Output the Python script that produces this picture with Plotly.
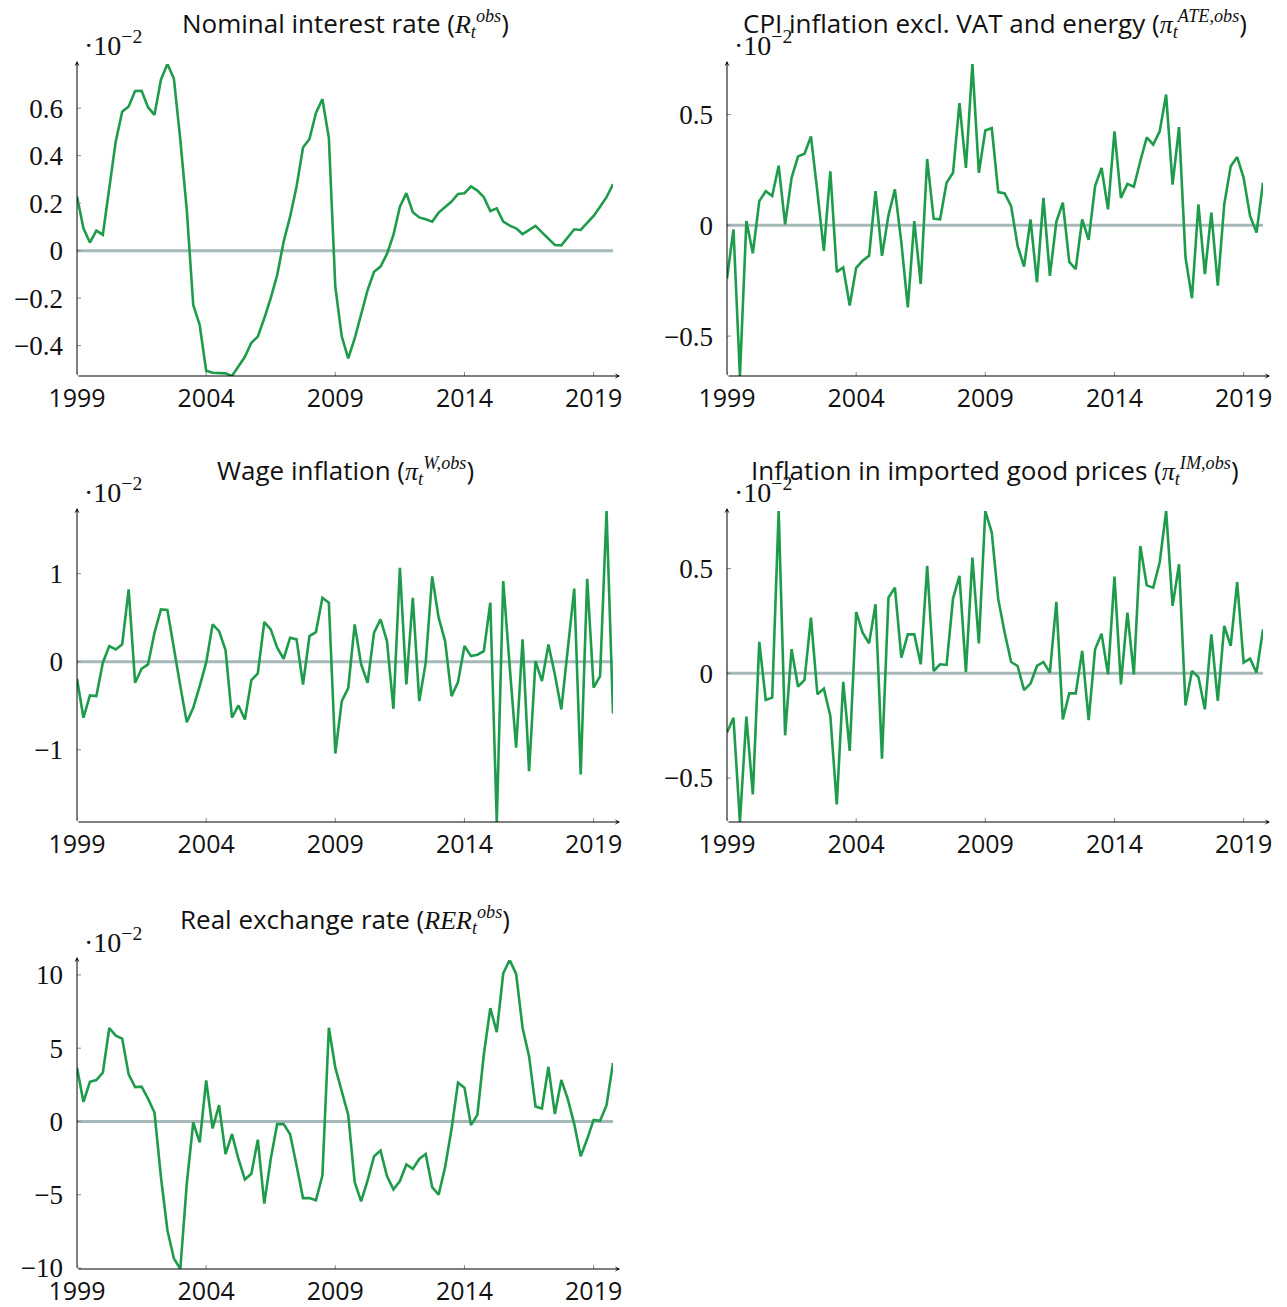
import pandas as pd
import plotly.graph_objects as go

# ---------------- data (values in units of 10^-2) ----------------
quarters = pd.period_range("1999Q1", "2019Q4", freq="Q")
t = [p.year + (p.quarter - 1) / 4 for p in quarters]

nominal_rate = [0.228, 0.094, 0.034, 0.084, 0.067, 0.256, 0.46, 0.585, 0.607, 0.672,
                0.673, 0.604, 0.572, 0.72, 0.786, 0.725, 0.466, 0.171, -0.229, -0.313,
                -0.506, -0.514, -0.514, -0.517, -0.528, -0.489, -0.447, -0.388, -0.362, -0.285,
                -0.2, -0.103, 0.038, 0.143, 0.27, 0.434, 0.47, 0.58, 0.638, 0.474,
                -0.152, -0.362, -0.454, -0.37, -0.271, -0.166, -0.089, -0.067, -0.014, 0.066,
                0.185, 0.242, 0.162, 0.14, 0.132, 0.122, 0.16, 0.183, 0.207, 0.239,
                0.242, 0.27, 0.253, 0.225, 0.167, 0.178, 0.122, 0.105, 0.094, 0.07,
                0.087, 0.104, 0.077, 0.049, 0.024, 0.022, 0.056, 0.09, 0.087, 0.118,
                0.146, 0.185, 0.225, 0.28]

cpi_ate = [-0.24, -0.018, -0.68, 0.019, -0.126, 0.109, 0.154, 0.132, 0.269, 0.004,
           0.214, 0.311, 0.323, 0.401, 0.15, -0.115, 0.244, -0.21, -0.19, -0.362,
           -0.192, -0.16, -0.138, 0.154, -0.138, 0.045, 0.162, -0.078, -0.37, 0.019,
           -0.265, 0.299, 0.03, 0.027, 0.192, 0.237, 0.551, 0.259, 0.728, 0.237,
           0.428, 0.439, 0.15, 0.144, 0.087, -0.093, -0.186, 0.027, -0.257, 0.124,
           -0.228, 0.016, 0.102, -0.165, -0.198, 0.027, -0.066, 0.177, 0.259, 0.072,
           0.424, 0.124, 0.187, 0.174, 0.289, 0.397, 0.364, 0.424, 0.59, 0.184,
           0.443, -0.145, -0.329, 0.094, -0.22, 0.057, -0.272, 0.094, 0.266, 0.308,
           0.214, 0.042, -0.033, 0.192]

wage = [-0.193, -0.636, -0.383, -0.39, -0.011, 0.178, 0.14, 0.197, 0.822, -0.239,
        -0.08, -0.03, 0.33, 0.595, 0.587, 0.14, -0.277, -0.686, -0.523, -0.277,
        -0.011, 0.424, 0.348, 0.133, -0.636, -0.496, -0.655, -0.208, -0.133, 0.451,
        0.367, 0.159, 0.034, 0.273, 0.254, -0.258, 0.292, 0.337, 0.727, 0.67,
        -1.042, -0.447, -0.3, 0.424, -0.03, -0.239, 0.33, 0.481, 0.235, -0.534,
        1.068, -0.258, 0.727, -0.447, -0.011, 0.97, 0.5, 0.235, -0.39, -0.231,
        0.178, 0.064, 0.08, 0.121, 0.67, -1.82, 0.917, -0.049, -0.977, 0.254,
        -1.242, 0.008, -0.22, 0.197, -0.144, -0.542, 0.178, 0.83, -1.28, 0.943,
        -0.295, -0.163, 1.712, -0.587]

import_prices = [-0.283, -0.212, -0.71, -0.207, -0.578, 0.15, -0.127, -0.116, 0.775, -0.296,
                 0.115, -0.064, -0.032, 0.266, -0.1, -0.073, -0.204, -0.626, -0.041, -0.371,
                 0.293, 0.194, 0.143, 0.33, -0.408, 0.361, 0.409, 0.075, 0.186, 0.186,
                 0.043, 0.513, 0.011, 0.043, 0.04, 0.357, 0.465, 0.006, 0.553, 0.143,
                 0.775, 0.672, 0.354, 0.194, 0.054, 0.035, -0.08, -0.049, 0.035, 0.054,
                 0.003, 0.341, -0.22, -0.096, -0.096, 0.107, -0.223, 0.115, 0.189, -0.005,
                 0.462, -0.053, 0.29, -0.005, 0.608, 0.42, 0.409, 0.529, 0.775, 0.322,
                 0.521, -0.153, 0.011, -0.018, -0.172, 0.186, -0.132, 0.226, 0.131, 0.436,
                 0.051, 0.07, 0.003, 0.21]

rer = [3.67, 1.33, 2.71, 2.83, 3.33, 6.38, 5.86, 5.66, 3.21, 2.35,
       2.38, 1.56, 0.61, -3.8, -7.42, -9.34, -10.07, -4.25, -0.07, -1.43,
       2.8, -0.48, 1.11, -2.22, -0.86, -2.56, -3.96, -3.57, -1.24, -5.61,
       -2.56, -0.18, -0.18, -0.88, -3.0, -5.23, -5.23, -5.38, -3.69, 6.4,
       3.67, 1.97, 0.45, -4.14, -5.45, -4.03, -2.38, -1.99, -3.73, -4.64,
       -4.07, -2.94, -3.24, -2.56, -2.22, -4.48, -5.0, -3.12, -0.52, 2.65,
       2.31, -0.25, 0.45, 4.57, 7.74, 6.1, 10.11, 11.02, 10.07, 6.38,
       4.46, 1.02, 0.88, 3.73, 0.5, 2.83, 1.52, -0.18, -2.38, -1.2,
       0.11, 0.05, 1.11, 4.0]

x_ticks = [1999, 2004, 2009, 2014, 2019]
y_ticks_nominal = [-0.4, -0.2, 0, 0.2, 0.4, 0.6]
y_ticks_cpi = [-0.5, 0, 0.5]
y_ticks_wage = [-1, 0, 1]
y_ticks_import = [-0.5, 0, 0.5]
y_ticks_rer = [-10, -5, 0, 5, 10]

SERIF = "Liberation Serif"
SANS = "Open Sans"


def m(s):
    return f"<span style=\"font-family:'{SERIF}'\">{s}</span>"


titles = [
    "Nominal interest rate (" + m("<i>R</i><sub><i>t</i></sub><sup><i>obs</i></sup>") + ")",
    "CPI inflation excl. VAT and energy (" + m("<i>π</i><sub><i>t</i></sub><sup><i>ATE,obs</i></sup>") + ")",
    "Wage inflation (" + m("<i>π</i><sub><i>t</i></sub><sup><i>W,obs</i></sup>") + ")",
    "Inflation in imported good prices (" + m("<i>π</i><sub><i>t</i></sub><sup><i>IM,obs</i></sup>") + ")",
    "Real exchange rate (" + m("<i>RER</i><sub><i>t</i></sub><sup><i>obs</i></sup>") + ")",
]

panels = [
    (nominal_rate, y_ticks_nominal, 0, 0),
    (cpi_ate, y_ticks_cpi, 0, 1),
    (wage, y_ticks_wage, 1, 0),
    (import_prices, y_ticks_import, 1, 1),
    (rer, y_ticks_rer, 2, 0),
]

# ---------------- geometry / style ----------------
W, H = 1287, 1307
COLS = [(77, 613), (727, 1263)]          # page pixels
ROWS = [(64, 376), (511, 822), (960, 1269)]
GREEN = "#1e9c4b"
ZERO_C = "#a6b8b8"
TICK_C = "#8a8a8a"


def px(p):
    return p / W


def py(p):
    return 1 - p / H


def fmt(v):
    s = f"{v:g}"
    return s.replace("-", "\u2212")


fig = go.Figure()
shapes, annotations = [], []

for k, (vals, yt, r, c) in enumerate(panels):
    n = "" if k == 0 else str(k + 1)
    xa, ya = "x" + n, "y" + n
    x0p, x1p = COLS[c]
    y0p, y1p = ROWS[r]
    ymin, ymax = min(vals), max(vals)

    fig.add_trace(go.Scatter(x=t, y=vals, mode="lines", xaxis=xa, yaxis=ya,
                             line=dict(color=GREEN, width=2.6), showlegend=False,
                             hoverinfo="skip"))

    fig.layout["xaxis" + n] = dict(
        domain=[px(x0p), px(x1p)], range=[t[0], t[-1]], anchor=ya, automargin=False,
        showgrid=False, zeroline=False, showline=False, ticks="",
        tickvals=x_ticks, ticktext=[str(v) for v in x_ticks],
        tickfont=dict(family=SANS, size=25, color="#111"), ticklabelstandoff=5)
    fig.layout["yaxis" + n] = dict(
        domain=[py(y1p), py(y0p)], range=[ymin, ymax], anchor=xa, automargin=False,
        showgrid=False, zeroline=False, showline=False, ticks="",
        tickvals=yt, ticktext=[fmt(v) for v in yt],
        tickfont=dict(family=SERIF, size=27, color="#111"), ticklabelstandoff=13)

    # zero line
    shapes.append(dict(type="line", xref=xa, yref=ya, x0=t[0], x1=t[-1], y0=0, y1=0,
                       line=dict(color=ZERO_C, width=3), layer="below"))
    # x ticks
    for tv in x_ticks:
        shapes.append(dict(type="line", xref=xa, yref=ya, x0=tv, x1=tv,
                           ysizemode="pixel", yanchor=ymin, y0=-4, y1=4,
                           line=dict(color=TICK_C, width=1)))
    # y ticks
    for tv in yt:
        shapes.append(dict(type="line", xref=xa, yref=ya, y0=tv, y1=tv,
                           xsizemode="pixel", xanchor=t[0], x0=-4, x1=4,
                           line=dict(color=TICK_C, width=1)))
    # axis lines with arrows
    annotations.append(dict(xref="paper", yref="paper", x=px(x1p + 7), y=py(y1p),
                            ax=-(x1p + 7 - x0p), ay=0, axref="pixel", ayref="pixel",
                            showarrow=True, arrowhead=3, arrowsize=0.9, arrowwidth=1,
                            arrowcolor="#000", text=""))
    annotations.append(dict(xref="paper", yref="paper", x=px(x0p), y=py(y0p - 3),
                            ax=0, ay=(y1p - y0p + 3), axref="pixel", ayref="pixel",
                            showarrow=True, arrowhead=3, arrowsize=0.9, arrowwidth=1,
                            arrowcolor="#000", text=""))
    # title
    annotations.append(dict(xref="paper", yref="paper", x=px((x0p + x1p) / 2),
                            y=py(y0p - 41), yanchor="middle", xanchor="center",
                            showarrow=False, text=titles[k],
                            font=dict(family=SANS, size=26, color="#111")))
    # exponent label
    annotations.append(dict(xref="paper", yref="paper", x=px(x0p + 5),
                            y=py(y0p - 20), yanchor="middle", xanchor="left",
                            showarrow=False, text=m("·10<sup>\u22122</sup>"),
                            font=dict(family=SERIF, size=28, color="#111")))

fig.update_layout(width=W, height=H, margin=dict(l=0, r=0, t=0, b=0),
                  paper_bgcolor="white", plot_bgcolor="white",
                  shapes=shapes, annotations=annotations)

# remove the default 8px page margin so the figure fills the window exactly
fig.write_html("out.html",
               config={"displayModeBar": False, "staticPlot": True},
               post_script="document.body.style.margin='0';document.body.style.overflow='hidden';")
